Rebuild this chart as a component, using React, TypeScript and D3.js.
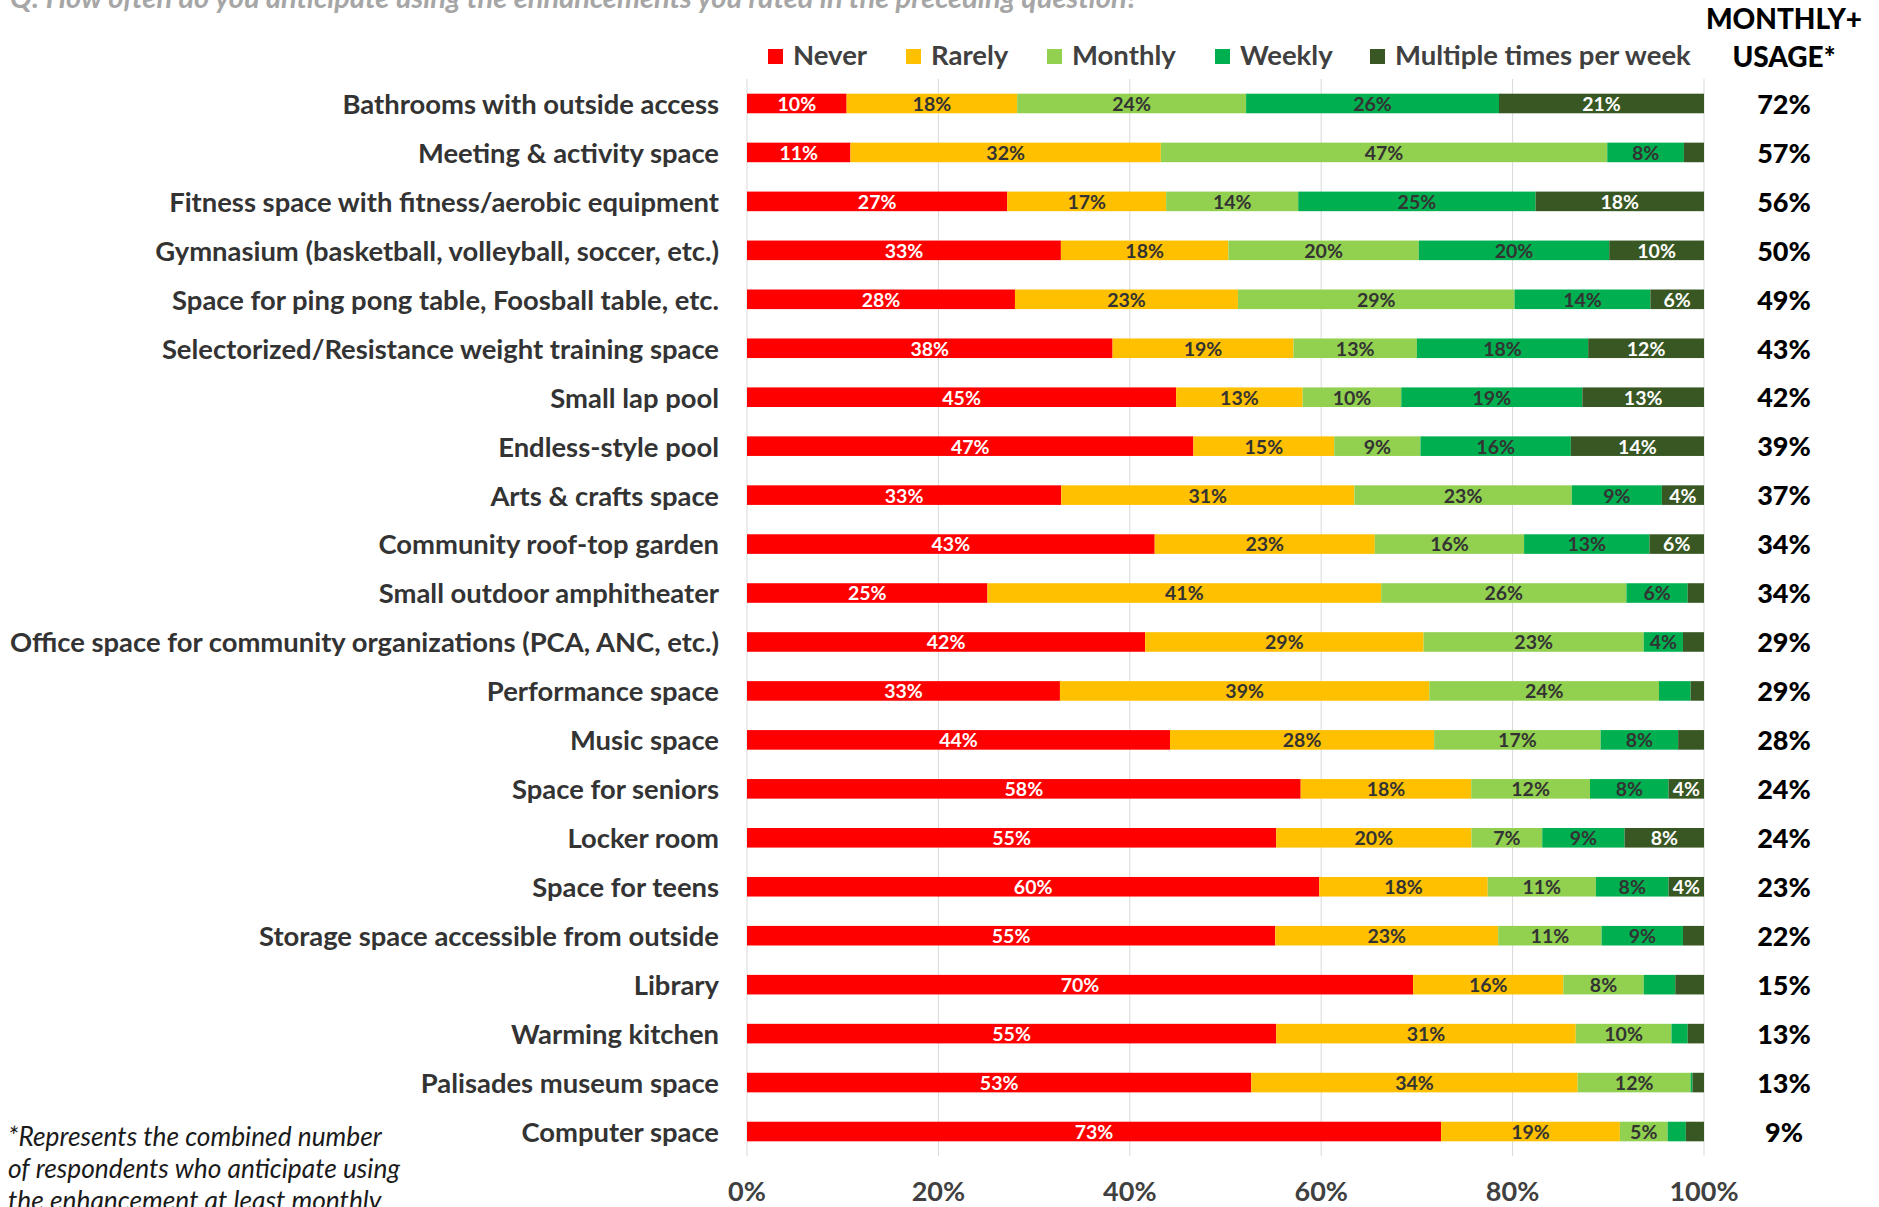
import React from 'react'
import * as d3 from 'd3'

const width = 1879
const height = 1207
const font = "Lato, 'Open Sans', sans-serif"

const categories = [
  'Bathrooms with outside access',
  'Meeting & activity space',
  'Fitness space with fitness/aerobic equipment',
  'Gymnasium (basketball, volleyball, soccer, etc.)',
  'Space for ping pong table, Foosball table, etc.',
  'Selectorized/Resistance weight training space',
  'Small lap pool',
  'Endless-style pool',
  'Arts & crafts space',
  'Community roof-top garden',
  'Small outdoor amphitheater',
  'Office space for community organizations (PCA, ANC, etc.)',
  'Performance space',
  'Music space',
  'Space for seniors',
  'Locker room',
  'Space for teens',
  'Storage space accessible from outside',
  'Library',
  'Warming kitchen',
  'Palisades museum space',
  'Computer space',
]

const never = [10.4, 10.8, 27.2, 32.8, 28.0, 38.2, 44.8, 46.6, 32.8, 42.6, 25.1, 41.6, 32.7, 44.2, 57.8, 55.3, 59.8, 55.2, 69.6, 55.3, 52.7, 72.6]
const rarely = [17.8, 32.4, 16.6, 17.5, 23.3, 18.9, 13.2, 14.7, 30.6, 23.0, 41.1, 29.1, 38.6, 27.6, 17.8, 20.4, 17.6, 23.3, 15.7, 31.3, 34.1, 18.7]
const monthly = [23.9, 46.6, 13.8, 19.9, 28.9, 12.9, 10.3, 9.0, 22.7, 15.6, 25.6, 23.0, 24.0, 17.4, 12.4, 7.4, 11.3, 10.8, 8.4, 10.0, 11.8, 5.0]
const weekly = [26.4, 8.0, 24.8, 19.9, 14.2, 17.9, 18.9, 15.7, 9.4, 13.1, 6.4, 4.1, 3.3, 8.1, 8.2, 8.6, 7.6, 8.5, 3.3, 1.7, 0.2, 1.9]
const multiple = [21.4, 2.1, 17.6, 9.9, 5.6, 12.1, 12.7, 13.9, 4.4, 5.7, 1.7, 2.2, 1.4, 2.7, 3.7, 8.3, 3.7, 2.2, 3.0, 1.7, 1.2, 1.9]

// combined monthly + weekly + multiple, as printed at the right
const monthlyPlus = [72, 57, 56, 50, 49, 43, 42, 39, 37, 34, 34, 29, 29, 28, 24, 24, 23, 22, 15, 13, 13, 9]

const keys = ['Never', 'Rarely', 'Monthly', 'Weekly', 'Multiple times per week']
const colors = ['#ff0000', '#ffc000', '#92d050', '#00b050', '#385723']
const labelColors = ['#ffffff', '#333333', '#333333', '#333333', '#ffffff']
const xTicks = [0, 0.2, 0.4, 0.6, 0.8, 1]
const legendX = [768, 906, 1047, 1215, 1370]

const title = 'Q: How often do you anticipate using the enhancements you rated in the preceding question?'
const footnote = [
  '*Represents the combined number',
  'of respondents who anticipate using',
  'the enhancement at least monthly',
]

const App = () => {
  const rows = categories.map((c, i) => ({
    cat: c,
    Never: never[i],
    Rarely: rarely[i],
    Monthly: monthly[i],
    Weekly: weekly[i],
    'Multiple times per week': multiple[i],
  }))

  const stacked = d3.stack<any>().keys(keys).offset(d3.stackOffsetExpand)(rows)

  const x = d3.scaleLinear().domain([0, 1]).range([747, 1704])
  const y = d3.scaleBand().domain(categories).range([79, 1156]).paddingInner(0.6).paddingOuter(0.3)
  const bw = y.bandwidth()

  return (
    <svg width={width} height={height} style={{ position: 'absolute', left: 0, top: 0, background: '#fff' }} fontFamily={font}>
      <text x={10} y={8} fontSize={29} fontWeight={700} fontStyle="italic" fill="#a6a6a6">{title}</text>

      {/* gridlines */}
      {xTicks.map(t => (
        <line key={t} x1={x(t)} x2={x(t)} y1={79} y2={1156} stroke="#d9d9d9" strokeWidth={1} />
      ))}

      {/* legend */}
      {keys.map((k, i) => (
        <g key={k} transform={`translate(${legendX[i]},0)`}>
          <rect x={0} y={49} width={15} height={15} fill={colors[i]} />
          <text x={25} y={65} fontSize={27.5} fontWeight={700} fill="#404040">{k}</text>
        </g>
      ))}

      <text x={1784} y={29} textAnchor="middle" fontSize={28} fontWeight={900} fill="#000">MONTHLY+</text>
      <text x={1784} y={67} textAnchor="middle" fontSize={28} fontWeight={900} fill="#000">USAGE*</text>

      {/* category labels */}
      {categories.map(c => (
        <text key={c} x={719} y={(y(c) as number) + bw / 2} dy="0.38em" textAnchor="end" fontSize={27.4} fontWeight={700} fill="#333">{c}</text>
      ))}

      {/* bars */}
      {stacked.map((s, si) => (
        <g key={s.key} fill={colors[si]}>
          {s.map((d, i) => (
            <rect key={i} x={x(d[0])} y={y(d.data.cat)} width={x(d[1]) - x(d[0])} height={bw} />
          ))}
        </g>
      ))}

      {/* data labels */}
      {stacked.map((s, si) => (
        <g key={s.key + '-lbl'} fill={labelColors[si]} fontSize={19.5} fontWeight={700} textAnchor="middle">
          {s.map((d, i) => {
            const v = Math.round((d.data as any)[s.key])
            if (v < 4) return null
            return (
              <text key={i} x={(x(d[0]) + x(d[1])) / 2} y={(y(d.data.cat) as number) + bw / 2} dy="0.38em">{v}%</text>
            )
          })}
        </g>
      ))}

      {/* monthly+ column */}
      {categories.map((c, i) => (
        <text key={c + '-mp'} x={1784} y={(y(c) as number) + bw / 2} dy="0.38em" textAnchor="middle" fontSize={27} fontWeight={900} fill="#000">{monthlyPlus[i]}%</text>
      ))}

      {/* x axis labels */}
      {xTicks.map(t => (
        <text key={'t' + t} x={x(t)} y={1201} textAnchor="middle" fontSize={27} fontWeight={700} fill="#404040">{d3.format('.0%')(t)}</text>
      ))}

      {/* footnote */}
      {footnote.map((l, i) => (
        <text key={l} x={8} y={1146 + i * 32} fontSize={26.3} fontStyle="italic" fill="#1a1a1a">{l}</text>
      ))}
    </svg>
  )
}

export default App
